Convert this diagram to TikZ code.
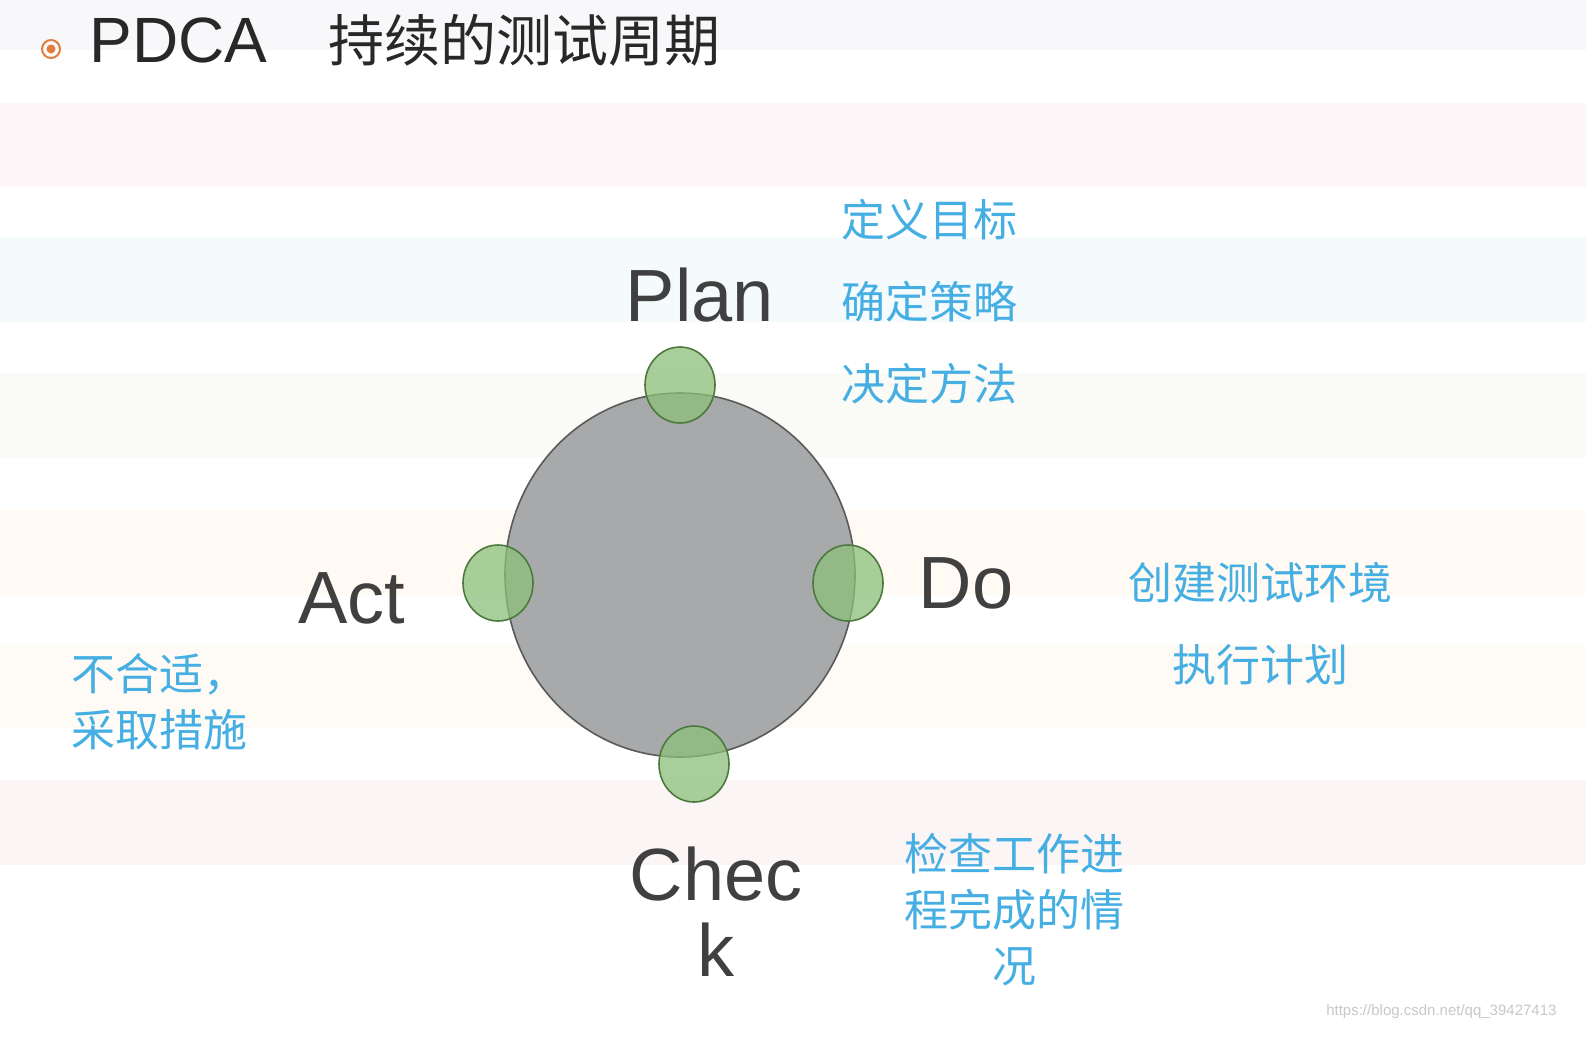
\documentclass[tikz,border=0pt]{standalone}
\usepackage{fontspec}
\setmainfont{Liberation Sans}
\newfontfamily\cjk{Noto Sans CJK SC}
\usetikzlibrary{shapes.geometric}
\definecolor{lbl}{HTML}{404040}
\definecolor{blu}{HTML}{45AEE3}
\definecolor{grn}{HTML}{8CC07A}
\definecolor{grnd}{HTML}{4C7A3E}
\definecolor{sa}{RGB}{248,247,250}
\definecolor{sb}{RGB}{253,247,250}
\definecolor{sc}{RGB}{245,250,253}
\definecolor{sd}{RGB}{250,251,246}
\definecolor{se}{RGB}{255,250,243}
\definecolor{sf}{RGB}{254,250,245}
\definecolor{sg}{RGB}{251,245,245}
\definecolor{org}{RGB}{222,125,60}
\definecolor{ttl}{RGB}{40,40,40}
\definecolor{cgray}{RGB}{168,169,171}
\definecolor{cedge}{RGB}{90,90,90}
\definecolor{wm}{RGB}{200,200,200}
\begin{document}
\begin{tikzpicture}[x=1pt,y=-1pt,
  big/.style={font=\fontsize{74}{80}\selectfont,text=lbl},
  note/.style={font=\cjk\fontsize{44}{56}\selectfont,text=blu,align=center},
  dot/.style={ellipse,draw=grnd,line width=1.6pt,fill=grn,fill opacity=0.75,minimum width=70pt,minimum height=76pt,inner sep=0pt}]
\path[use as bounding box,fill=white] (0,0) rectangle (1586,1042);
\fill[sa] (0,0) rectangle (1586,50);
\fill[sb] (0,103) rectangle (1586,187);
\fill[sc] (0,237) rectangle (1586,322);
\fill[sd] (0,373) rectangle (1586,458);
\fill[se] (0,510) rectangle (1586,595);
\fill[sf] (0,645) rectangle (1586,728);
\fill[sg] (0,780) rectangle (1586,865);
% title
\node[circle,draw=org,line width=2pt,minimum size=18pt,inner sep=0pt] (b) at (51,49) {};
\fill[org] (b.center) circle (4.5pt);
\node[anchor=west,font=\fontsize{64}{70}\selectfont,text=ttl] (t1) at (86,40) {PDCA};
\node[anchor=west,font=\cjk\fontsize{56}{60}\selectfont,text=ttl] (t2) at (325,40) {持续的测试周期};
% circle
\node[ellipse,draw=cedge,line width=1.6pt,fill=cgray,minimum width=350pt,minimum height=364pt] (c) at (680,575) {};
\node[dot] (p) at (680,385) {};
\node[dot] (d) at (848,583) {};
\node[dot] (a) at (498,583) {};
\node[dot] (k) at (694,764) {};
% labels
\node[big] (pl) at (700,295) {Plan};
\node[big] (dl) at (966,583) {Do};
\node[big] (al) at (352,598) {Act};
\node[big,align=center] (kl) at (716,912) {Chec\\[-4pt]k};
\node[note,anchor=west] (n1) at (838,220) {定义目标};
\node[note,anchor=west] (n2) at (838,302) {确定策略};
\node[note,anchor=west] (n3) at (838,384) {决定方法};
\node[note] (n4) at (1260,583) {创建测试环境};
\node[note] (n5) at (1260,665) {执行计划};
\node[note,align=left,anchor=west] (n6) at (68,702) {不合适，\\采取措施};
\node[note] (n7) at (1014,910) {检查工作进\\程完成的情\\况};
\node[anchor=east,font=\fontsize{15}{18}\selectfont,text=wm] (w) at (1560,1012) {https://blog.csdn.net/qq\_39427413};
\end{tikzpicture}
\end{document}
